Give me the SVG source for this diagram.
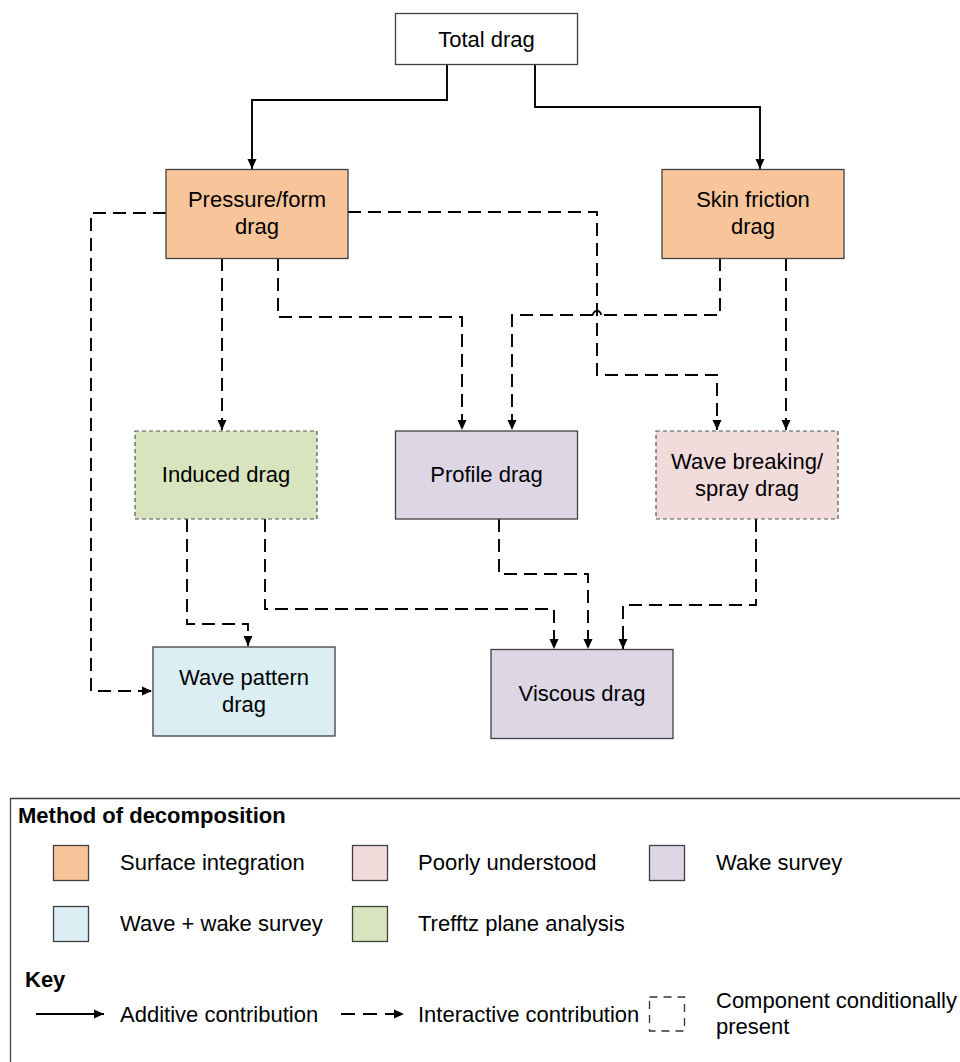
<svg xmlns="http://www.w3.org/2000/svg" width="960" height="1062" viewBox="0 0 960 1062">
<style>
text{font-family:"Liberation Sans",Arial,sans-serif;font-size:22px;fill:#000}
.c{text-anchor:middle}
.b{font-weight:bold}
.node{stroke:#404040;stroke-width:1.3}
.cond{stroke:#555;stroke-width:1.2;stroke-dasharray:4,3}
.solid{fill:none;stroke:#000;stroke-width:1.9}
.dash{fill:none;stroke:#000;stroke-width:1.9;stroke-dasharray:13,7}
.orange{fill:#F8C59B}
.green{fill:#D7E4BD}
.purple{fill:#DCD6E5}
.pink{fill:#F2DCDB}
.blue{fill:#DAEEF3}
</style>
<defs>
<marker id="ah" markerUnits="userSpaceOnUse" markerWidth="10" markerHeight="10" refX="10" refY="5" orient="auto">
<path d="M0,0.5 L10,5 L0,9.5 z" fill="#000"/>
</marker>
</defs>
<rect width="960" height="1062" fill="#fff"/>

<g id="connectors">
<path class="solid" d="M447,65 V100 H252 V169" marker-end="url(#ah)"/>
<path class="solid" d="M535,65 V107 H760 V169" marker-end="url(#ah)"/>
<path class="dash" d="M166,213 H91 V691 H152" marker-end="url(#ah)"/>
<path class="dash" d="M348,212 H597 V375 H717 V430" marker-end="url(#ah)"/>
<path class="dash" d="M222,258 V430" marker-end="url(#ah)"/>
<path class="dash" d="M278,258 V317 H462 V430" marker-end="url(#ah)"/>
<g id="skin-to-profile">
<path class="dash" d="M720,258 V315 H601"/>
<path class="solid" d="M601,315 A4,4 0 0 0 593,315"/>
<path class="dash" d="M593,315 H512 V430" marker-end="url(#ah)"/>
</g>
<path class="dash" d="M786,258 V430" marker-end="url(#ah)"/>
<path class="dash" d="M187,519 V624 H248 V646" marker-end="url(#ah)"/>
<path class="dash" d="M265,519 V609 H554 V649" marker-end="url(#ah)"/>
<path class="dash" d="M499,519 V574 H588 V649" marker-end="url(#ah)"/>
<path class="dash" d="M756,519 V605 H623 V649" marker-end="url(#ah)"/>
</g>

<g id="total">
<rect class="node" x="395.5" y="13.5" width="182" height="51" fill="#fff"/>
<text class="c" x="486.5" y="47">Total drag</text>
</g>
<g id="pressure">
<rect class="node orange" x="166" y="169.5" width="182" height="89"/>
<text class="c" x="257" y="207">Pressure/form</text>
<text class="c" x="257" y="234">drag</text>
</g>
<g id="skin">
<rect class="node orange" x="662" y="169.5" width="182" height="89"/>
<text class="c" x="753" y="207">Skin friction</text>
<text class="c" x="753" y="234">drag</text>
</g>
<g id="induced">
<rect class="cond green" x="135" y="431" width="182" height="88"/>
<text class="c" x="226" y="482">Induced drag</text>
</g>
<g id="profile">
<rect class="node purple" x="395.5" y="431" width="182" height="88"/>
<text class="c" x="486.5" y="482">Profile drag</text>
</g>
<g id="wavebreaking">
<rect class="cond pink" x="656" y="431" width="182" height="88"/>
<text class="c" x="747" y="469">Wave breaking/</text>
<text class="c" x="747" y="496">spray drag</text>
</g>
<g id="wavepattern">
<rect class="node blue" x="153" y="647" width="182" height="89"/>
<text class="c" x="244" y="685">Wave pattern</text>
<text class="c" x="244" y="712">drag</text>
</g>
<g id="viscous">
<rect class="node purple" x="491" y="649.5" width="182" height="89"/>
<text class="c" x="582" y="701">Viscous drag</text>
</g>

<g id="legend">
<path d="M960,798.5 H10.5 V1062" fill="none" stroke="#404040" stroke-width="1.3"/>
<text class="b" x="18" y="823">Method of decomposition</text>
<rect class="node orange" x="53.5" y="845.5" width="35" height="35"/>
<text x="120" y="870">Surface integration</text>
<rect class="node pink" x="352.5" y="845.5" width="35" height="35"/>
<text x="418" y="870">Poorly understood</text>
<rect class="node purple" x="649.5" y="845.5" width="35" height="35"/>
<text x="716" y="870">Wake survey</text>
<rect class="node blue" x="53.5" y="906.5" width="35" height="35"/>
<text x="120" y="931">Wave + wake survey</text>
<rect class="node green" x="352.5" y="906.5" width="35" height="35"/>
<text x="418" y="931">Trefftz plane analysis</text>
<text class="b" x="25" y="987">Key</text>
<path class="solid" d="M36,1014 H104" marker-end="url(#ah)"/>
<text x="120" y="1022">Additive contribution</text>
<path d="M341,1014 H404" fill="none" stroke="#000" stroke-width="1.9" stroke-dasharray="14,8" marker-end="url(#ah)"/>
<text x="418" y="1022">Interactive contribution</text>
<rect x="649.5" y="997" width="35" height="34" fill="#fff" stroke="#333" stroke-width="1.3" stroke-dasharray="8,6"/>
<text x="716" y="1008">Component conditionally</text>
<text x="716" y="1034">present</text>
</g>
</svg>
